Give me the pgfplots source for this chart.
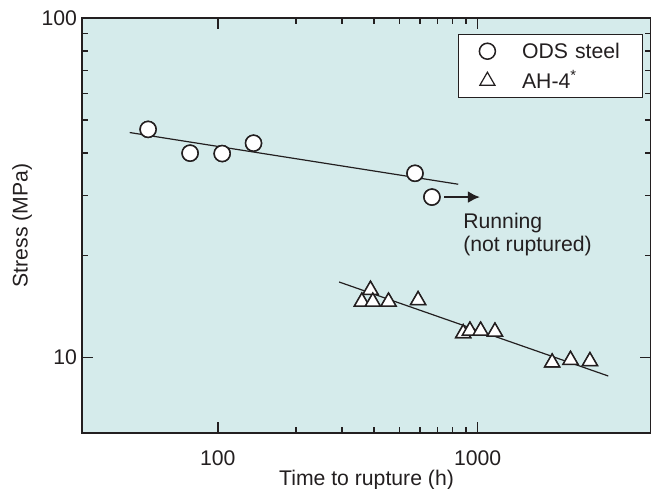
\documentclass[border=0pt]{standalone}
\usepackage{fontspec}
\setmainfont{Liberation Sans}
\usepackage{pgfplots}
\pgfplotsset{compat=1.18}
\usetikzlibrary{arrows.meta}
\definecolor{bgteal}{RGB}{213,235,235}
\definecolor{ink}{RGB}{35,31,32}

\begin{document}
\begin{tikzpicture}[font=\fontsize{10.6bp}{12.7bp}\selectfont, color=ink]
\begin{axis}[
  xmode=log, ymode=log,
  scale only axis,
  width=284.5bp, height=207.5bp,
  xmin=30, xmax=4650,
  ymin=6, ymax=100,
  xtick={100,1000}, ytick={10,100},
  log ticks with fixed point,
  /pgf/number format/1000 sep={},
  /pgf/number format/assume math mode=true,
  axis background/.style={fill=bgteal},
  axis line style={line width=1bp, ink},
  major tick length=5.5bp, minor tick length=3bp,
  every tick/.style={line width=0.8bp, ink},
  xticklabel style={inner sep=0pt, yshift=-8.5bp},
  yticklabel style={inner sep=0pt, xshift=-2.3bp},
  xlabel={Time to rupture (h)},
  ylabel={Stress (MPa)},
  xlabel style={at={(axis description cs:0.5,-0.139)}, anchor=south, inner sep=0pt},
  ylabel style={at={(axis description cs:-0.087,0.5)}, anchor=south, inner sep=0pt},
  legend style={at={(axis description cs:0.9854,0.9614)}, anchor=north east,
    draw=ink, line width=0.6bp, fill=white,
    inner xsep=0pt, inner ysep=4.3bp, row sep=6.5bp, column sep=0pt,
    nodes={inner sep=0pt, text height=7.6bp, text depth=0bp,
           text width=60bp, align=left}},
  legend cell align=left,
  legend image code/.code={\path[draw=none, fill=none] (-14.5bp,0bp) -- (17.35bp,0bp);
    \draw[#1] plot coordinates {(0bp,0bp)};},
]
\addplot[only marks, mark=*, mark size=4bp,
  mark options={fill=white, draw=ink, line width=0.75bp}]
  coordinates {(53.9,47.0) (78.2,40.0) (103.9,39.9) (137.2,42.8) (574,34.9) (667,29.7)};
\addlegendentry{ODS steel}
\addplot[only marks, mark=triangle*, mark size=4.35bp,
  mark options={fill=white, draw=ink, line width=0.6bp}]
  coordinates {(387,15.83) (358.5,14.61) (395,14.61) (454,14.61) (590,14.76)
               (880,11.79) (934,12.0) (1027,12.0) (1166,11.92)
               (1936,9.67) (2278,9.84) (2706,9.76)};
\addlegendentry{AH-4\textsuperscript{*}}
% fitted lines
\addplot[ink, line width=0.6bp, forget plot] coordinates {(45.8,46.0) (842,32.4)};
\addplot[ink, line width=0.6bp, forget plot] coordinates {(293,16.7) (3184,8.83)};
% marks redrawn on top of the lines
\addplot[only marks, mark=*, mark size=4bp, forget plot,
  mark options={fill=white, draw=ink, line width=0.75bp}]
  coordinates {(53.9,47.0) (78.2,40.0) (103.9,39.9) (137.2,42.8) (574,34.9) (667,29.7)};
\addplot[only marks, mark=triangle*, mark size=4.35bp, forget plot,
  mark options={fill=white, draw=ink, line width=0.75bp}]
  coordinates {(387,15.83) (358.5,14.61) (395,14.61) (454,14.61) (590,14.76)
               (880,11.79) (934,12.0) (1027,12.0) (1166,11.92)
               (1936,9.67) (2278,9.84) (2706,9.76)};
\draw[ink, line width=1.35bp, -{Latex[length=6bp,width=6bp]}]
  (axis cs:743,29.7) -- (axis cs:1021,29.7);
\node[anchor=north west, align=left, inner sep=0pt, font=\fontsize{10.6bp}{11.5bp}\selectfont]
  at (axis cs:878,26.7) {Running\\(not ruptured)};
\end{axis}
\pgfresetboundingbox
\path (-41bp,-28bp) rectangle (284.5bp,216.5bp);
\end{tikzpicture}
\end{document}
